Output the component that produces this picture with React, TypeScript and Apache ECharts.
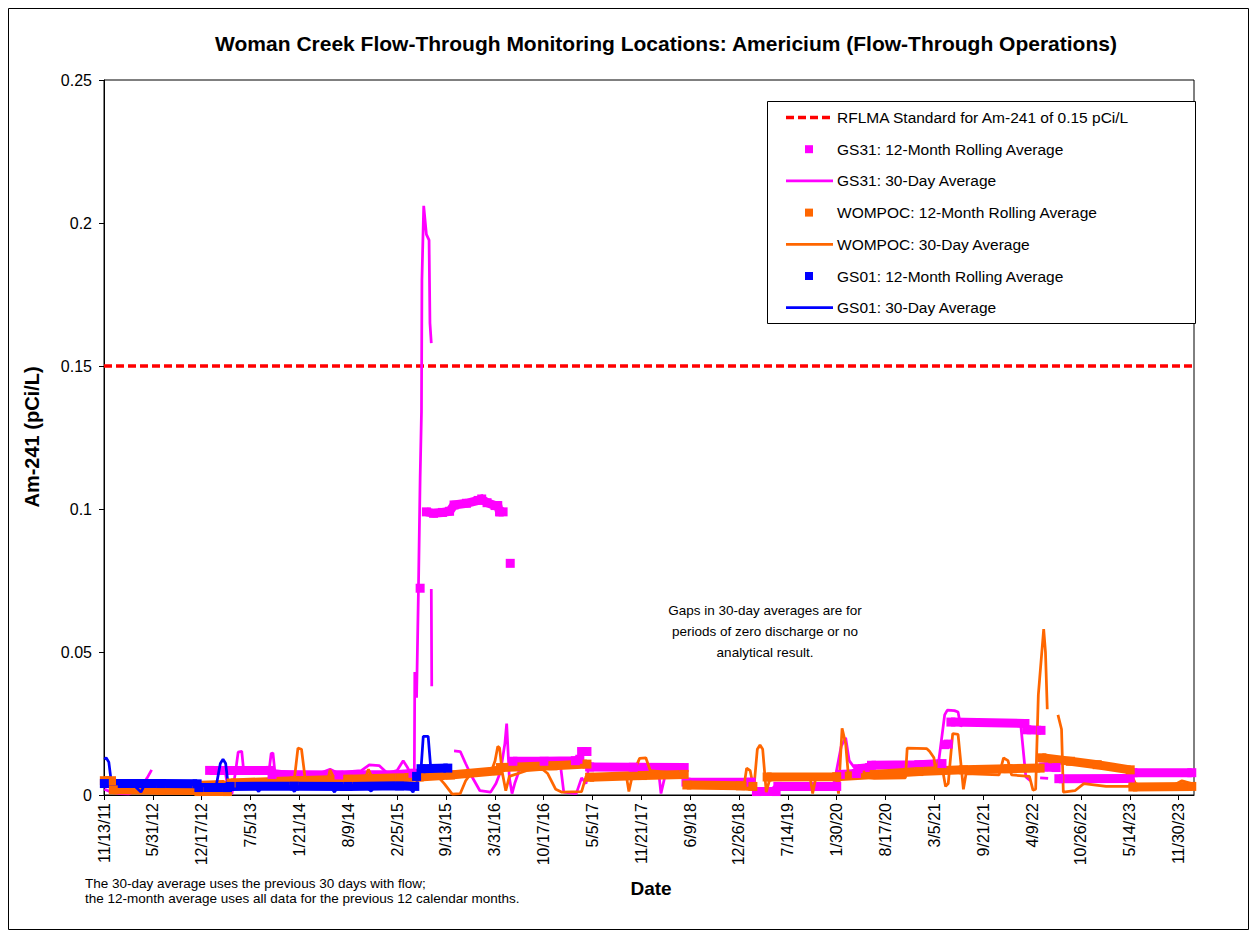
import React, { useEffect, useRef } from 'react';
import * as echarts from 'echarts';

// x values are decimal years, y values are Am-241 in pCi/L
const gs31Roll: number[][][] = [
  [[2013.05, 0.0086], [2013.73, 0.0086]],
  [[2013.75, 0.0072], [2014.5, 0.007], [2015.18, 0.0072], [2015.33, 0.0076]],
  [[2015.41, 0.0723]],
  [[2015.48, 0.099], [2015.56, 0.0985], [2015.66, 0.0988], [2015.74, 0.0992], [2015.79, 0.1014], [2015.93, 0.102], [2016.06, 0.103], [2016.1, 0.1035], [2016.16, 0.1022], [2016.25, 0.1012], [2016.28, 0.1012], [2016.3, 0.099], [2016.34, 0.099]],
  [[2016.42, 0.081]],
  [[2016.45, 0.0118], [2016.8, 0.0118], [2017.15, 0.012], [2017.2, 0.0125]],
  [[2017.22, 0.0152], [2017.28, 0.0152]],
  [[2017.31, 0.0098], [2017.8, 0.0097], [2018.37, 0.0096]],
  [[2018.39, 0.0045], [2019.12, 0.0045]],
  [[2019.18, 0.0012], [2019.4, 0.0012]],
  [[2019.42, 0.003], [2020.08, 0.003]],
  [[2020.12, 0.0072], [2020.3, 0.0075]],
  [[2020.32, 0.0092], [2020.45, 0.0096]],
  [[2020.47, 0.0104], [2021.0, 0.0106], [2021.26, 0.011]],
  [[2021.29, 0.0176], [2021.33, 0.0178]],
  [[2021.36, 0.0255], [2022.19, 0.025]],
  [[2022.21, 0.0228], [2022.37, 0.0226]],
  [[2022.4, 0.0098], [2022.54, 0.0096]],
  [[2022.57, 0.0057], [2023.37, 0.0058]],
  [[2023.4, 0.0078], [2024.06, 0.0078]],
];

const gs31Avg: number[][][] = [
  [[2011.87, 0.002], [2011.95, 0.001], [2012.05, 0.0005], [2012.15, 0.0004], [2012.28, 0.0025], [2012.35, 0.006], [2012.4, 0.0088]],
  [[2013.05, 0.0092], [2013.22, 0.0094], [2013.26, 0.001], [2013.3, 0.0004], [2013.34, 0.008], [2013.37, 0.015], [2013.41, 0.0153], [2013.43, 0.009], [2013.6, 0.0092], [2013.72, 0.0094], [2013.74, 0.0145], [2013.76, 0.0147], [2013.78, 0.0085], [2014.0, 0.0077], [2014.3, 0.0078], [2014.4, 0.009], [2014.48, 0.0078], [2014.75, 0.0085], [2014.84, 0.0105], [2014.95, 0.0103], [2015.04, 0.0077], [2015.15, 0.0085], [2015.22, 0.012], [2015.27, 0.0095], [2015.32, 0.006], [2015.345, 0.009], [2015.35, 0.043]],
  [[2015.37, 0.034], [2015.39, 0.07], [2015.41, 0.111], [2015.425, 0.134], [2015.43, 0.18], [2015.45, 0.206], [2015.48, 0.196], [2015.51, 0.194], [2015.52, 0.165], [2015.535, 0.158]],
  [[2015.535, 0.072], [2015.54, 0.038]],
  [[2015.79, 0.0154], [2015.86, 0.0152], [2015.92, 0.011], [2015.98, 0.007], [2016.08, 0.0015], [2016.2, 0.001], [2016.26, 0.004], [2016.31, 0.008], [2016.36, 0.018], [2016.38, 0.025], [2016.41, 0.006], [2016.44, 0.0005], [2016.47, 0.004], [2016.55, 0.0112], [2016.98, 0.0112], [2017.02, 0.001], [2017.16, 0.0005], [2017.22, 0.006], [2017.27, 0.004], [2017.31, 0.0115], [2017.35, 0.0098], [2017.9, 0.0097], [2018.08, 0.0092], [2018.11, 0.0005], [2018.15, 0.006], [2018.19, 0.0095], [2018.36, 0.0093], [2018.4, 0.005], [2019.0, 0.0048], [2019.12, 0.005], [2019.2, 0.001], [2019.3, 0.0005], [2019.4, 0.0035], [2020.05, 0.004], [2020.13, 0.017], [2020.18, 0.02], [2020.22, 0.012], [2020.28, 0.0095], [2020.9, 0.01], [2021.22, 0.011], [2021.29, 0.028], [2021.32, 0.0297], [2021.4, 0.0295], [2021.44, 0.029], [2021.47, 0.024], [2021.52, 0.0255], [2022.14, 0.0255], [2022.2, 0.0063], [2022.25, 0.005]],
  [[2022.36, 0.006], [2022.45, 0.0058]],
];

const wompocRoll: number[][][] = [
  [[2011.87, 0.005], [2011.95, 0.005]],
  [[2011.97, 0.0018], [2012.5, 0.0017], [2012.91, 0.0016]],
  [[2012.93, 0.0012], [2013.25, 0.0012]],
  [[2013.29, 0.0042], [2014.0, 0.005], [2014.6, 0.0055], [2015.18, 0.006], [2015.4, 0.0063], [2015.75, 0.007], [2016.28, 0.0085]],
  [[2016.31, 0.0096], [2016.9, 0.0102], [2017.28, 0.0108]],
  [[2017.31, 0.0062], [2017.9, 0.0068], [2018.37, 0.0072]],
  [[2018.4, 0.0035], [2019.0, 0.0032], [2019.14, 0.003]],
  [[2019.3, 0.0063], [2020.08, 0.0064], [2020.5, 0.0072], [2021.0, 0.0082], [2021.5, 0.0088], [2022.0, 0.0092], [2022.36, 0.0094]],
  [[2022.38, 0.013], [2022.7, 0.0118], [2023.0, 0.0106], [2023.37, 0.0088]],
  [[2023.4, 0.0028], [2024.06, 0.003]],
];

const wompocAvg: number[][][] = [
  [[2011.87, 0.005], [2011.93, 0.005], [2011.97, 0.001], [2012.3, 0.0008], [2012.6, 0.0012], [2012.9, 0.001], [2012.95, 0.0045], [2013.2, 0.0048], [2013.25, 0.004], [2013.27, 0.0012], [2013.3, 0.0052], [2013.6, 0.0052], [2014.0, 0.0056], [2014.04, 0.0164], [2014.08, 0.016], [2014.12, 0.006], [2014.38, 0.006], [2014.4, 0.0088], [2014.44, 0.0062], [2014.8, 0.0062], [2014.83, 0.009], [2014.87, 0.0062], [2015.2, 0.0062], [2015.5, 0.0065], [2015.6, 0.0068], [2015.68, 0.004], [2015.77, 0.0003], [2015.86, 0.0005], [2015.92, 0.005], [2015.99, 0.008], [2016.2, 0.0075], [2016.25, 0.012], [2016.28, 0.017], [2016.3, 0.0165], [2016.33, 0.008], [2016.37, 0.0015], [2016.41, 0.0065], [2016.6, 0.0085], [2016.78, 0.009], [2016.84, 0.0075], [2016.93, 0.002], [2017.0, 0.001], [2017.22, 0.0012], [2017.27, 0.0065], [2017.55, 0.007], [2017.72, 0.007], [2017.75, 0.0012], [2017.79, 0.007], [2017.87, 0.0128], [2017.94, 0.013], [2017.99, 0.0085], [2018.2, 0.0078], [2018.36, 0.0068], [2018.4, 0.003], [2018.98, 0.0025], [2019.04, 0.003], [2019.07, 0.0094], [2019.11, 0.0085], [2019.15, 0.002], [2019.19, 0.016], [2019.22, 0.0175], [2019.25, 0.016], [2019.29, 0.001], [2019.34, 0.0068], [2019.7, 0.0072], [2019.78, 0.0065], [2019.81, 0.0005], [2019.85, 0.0068], [2020.07, 0.0068], [2020.1, 0.0005], [2020.14, 0.0233], [2020.18, 0.018], [2020.21, 0.007], [2020.5, 0.0058], [2020.85, 0.006], [2020.87, 0.0164], [2021.09, 0.0162], [2021.12, 0.0153], [2021.17, 0.013], [2021.19, 0.008], [2021.22, 0.012], [2021.26, 0.01], [2021.3, 0.003], [2021.33, 0.004], [2021.38, 0.0215], [2021.44, 0.0212], [2021.5, 0.002], [2021.53, 0.0075], [2021.9, 0.007], [2021.95, 0.013], [2022.0, 0.012], [2022.04, 0.007], [2022.24, 0.0065], [2022.28, 0.0017], [2022.31, 0.002], [2022.34, 0.035], [2022.4, 0.058], [2022.42, 0.05], [2022.44, 0.03]],
  [[2022.56, 0.028], [2022.6, 0.023], [2022.62, 0.001], [2022.75, 0.0015], [2022.85, 0.004], [2023.1, 0.003], [2023.36, 0.003], [2023.4, 0.006], [2023.45, 0.0025], [2023.8, 0.0025], [2023.95, 0.005], [2024.06, 0.004]],
];

const gs01Roll: number[][][] = [
  [[2011.87, 0.004], [2012.5, 0.004], [2012.91, 0.0039]],
  [[2012.93, 0.0026], [2013.25, 0.0026]],
  [[2013.28, 0.003], [2014.0, 0.0031], [2014.6, 0.003], [2015.18, 0.0032], [2015.35, 0.003]],
  [[2015.37, 0.0065]],
  [[2015.42, 0.0092], [2015.72, 0.0094]],
];

const gs01Avg: number[][][] = [
  [[2011.87, 0.0125], [2011.89, 0.013], [2011.92, 0.0115], [2011.95, 0.004], [2012.2, 0.0035], [2012.28, 0.001], [2012.32, 0.0035], [2012.7, 0.0038], [2012.91, 0.0035], [2012.95, 0.0022], [2013.12, 0.0025], [2013.17, 0.011], [2013.2, 0.0125], [2013.23, 0.011], [2013.26, 0.003], [2013.55, 0.003], [2013.6, 0.0012], [2013.64, 0.003], [2013.95, 0.0032], [2014.0, 0.0012], [2014.04, 0.003], [2014.4, 0.003], [2014.45, 0.001], [2014.49, 0.003], [2014.8, 0.003], [2014.86, 0.0013], [2014.9, 0.003], [2015.28, 0.003], [2015.33, 0.001], [2015.37, 0.004], [2015.42, 0.009], [2015.445, 0.0205], [2015.5, 0.0205], [2015.53, 0.009], [2015.72, 0.0092]],
];

const standardValue = 0.15;
const yTicks = { min: 0, max: 0.25, interval: 0.05 };
const xTickDays = 200;
const xMaxDays = 4463;

const legendItems = [
  { name: 'RFLMA Standard for Am-241 of 0.15 pCi/L', color: '#FF0000', kind: 'dash' },
  { name: 'GS31: 12-Month Rolling Average', color: '#FF00FF', kind: 'square' },
  { name: 'GS31: 30-Day Average', color: '#FF00FF', kind: 'line' },
  { name: 'WOMPOC: 12-Month Rolling Average', color: '#FF6600', kind: 'square' },
  { name: 'WOMPOC: 30-Day Average', color: '#FF6600', kind: 'line' },
  { name: 'GS01: 12-Month Rolling Average', color: '#0000FF', kind: 'square' },
  { name: 'GS01: 30-Day Average', color: '#0000FF', kind: 'line' },
];

const START_UTC = Date.UTC(2011, 10, 13);
const YEAR0 = 2011.866;
const toDay = (yr: number) => (yr - YEAR0) * 365.25;

const build = (segs: number[][][]) => {
  const out: (number | null)[][] = [];
  segs.forEach((s, i) => {
    if (i > 0) out.push([toDay(s[0][0]) - 0.01, null]);
    s.forEach(([yr, v]) => out.push([toDay(yr), v]));
  });
  return out;
};

const FONT = '"Liberation Sans", Arial, Helvetica, sans-serif';

const fmtDate = (v: number) => {
  if (Math.abs(v % xTickDays) > 0.001) return '';
  const d = new Date(START_UTC + v * 86400000);
  return `${d.getUTCMonth() + 1}/${d.getUTCDate()}/${String(d.getUTCFullYear()).slice(2)}`;
};

const rollSeries = (name: string, segs: number[][][], color: string) => ({
  type: 'line',
  name,
  data: build(segs),
  showSymbol: true,
  symbol: 'rect',
  symbolSize: 9,
  connectNulls: false,
  itemStyle: { color },
  lineStyle: { color, width: 9, cap: 'butt', join: 'miter' },
  silent: true,
  emphasis: { disabled: true },
});

const avgSeries = (name: string, segs: number[][][], color: string) => ({
  type: 'line',
  name,
  data: build(segs),
  showSymbol: false,
  connectNulls: false,
  lineStyle: { color, width: 2.75 },
  silent: true,
  emphasis: { disabled: true },
});

function legendGraphic() {
  const left = 759;
  const top = 93;
  const children: any[] = [
    {
      type: 'rect',
      shape: { x: left + 0.5, y: top + 0.5, width: 428, height: 222 },
      style: { fill: '#fff', stroke: '#000', lineWidth: 1 },
    },
  ];
  legendItems.forEach((it, i) => {
    const cy = 109.5 + i * 31.7;
    if (it.kind === 'square') {
      children.push({
        type: 'rect',
        shape: { x: 797, y: cy - 4, width: 8, height: 8 },
        style: { fill: it.color },
      });
    } else {
      children.push({
        type: 'line',
        shape: { x1: 778, y1: cy, x2: 825, y2: cy },
        style: {
          stroke: it.color,
          lineWidth: it.kind === 'dash' ? 3.5 : 2.75,
          lineDash: it.kind === 'dash' ? [8, 4] : null,
        },
      });
    }
    children.push({
      type: 'text',
      x: 829,
      y: cy,
      style: {
        text: it.name,
        font: `15.5px ${FONT}`,
        fill: '#000',
        textAlign: 'left',
        textVerticalAlign: 'middle',
      },
    });
  });
  return { type: 'group', z: 100, children };
}

export default function App() {
  const ref = useRef<HTMLDivElement>(null);
  useEffect(() => {
    if (!ref.current) return;
    const chart = echarts.init(ref.current, null, { renderer: 'svg' });
    const option: any = {
      animation: false,
      backgroundColor: '#fff',
      grid: {
        left: 96,
        top: 72,
        width: 1090,
        height: 715,
        show: true,
        borderColor: '#000',
        borderWidth: 1,
        backgroundColor: 'transparent',
      },
      xAxis: {
        type: 'value',
        min: 0,
        max: xMaxDays,
        interval: xTickDays,
        axisLine: { show: true, onZero: false, lineStyle: { color: '#000', width: 1 } },
        axisTick: { show: true, inside: false, length: 5, lineStyle: { color: '#000' } },
        axisLabel: {
          rotate: 90,
          margin: 8,
          color: '#000',
          fontSize: 16,
          fontFamily: FONT,
          showMaxLabel: false,
          formatter: fmtDate,
        },
        splitLine: { show: false },
      },
      yAxis: {
        type: 'value',
        min: yTicks.min,
        max: yTicks.max,
        interval: yTicks.interval,
        axisLine: { show: true, lineStyle: { color: '#000', width: 1 } },
        axisTick: { show: true, inside: false, length: 5, lineStyle: { color: '#000' } },
        axisLabel: { color: '#000', fontSize: 16, fontFamily: FONT, margin: 12 },
        splitLine: { show: false },
      },
      series: [
        {
          type: 'line',
          name: legendItems[0].name,
          data: [[0, standardValue], [xMaxDays, standardValue]],
          showSymbol: false,
          lineStyle: { color: '#FF0000', width: 3.5, type: [8, 4] },
          silent: true,
        },
        rollSeries(legendItems[1].name, gs31Roll, '#FF00FF'),
        avgSeries(legendItems[2].name, gs31Avg, '#FF00FF'),
        rollSeries(legendItems[3].name, wompocRoll, '#FF6600'),
        avgSeries(legendItems[4].name, wompocAvg, '#FF6600'),
        rollSeries(legendItems[5].name, gs01Roll, '#0000FF'),
        avgSeries(legendItems[6].name, gs01Avg, '#0000FF'),
      ],
      graphic: [
        {
          type: 'rect',
          shape: { x: 0.5, y: 0.5, width: 1240, height: 921 },
          style: { fill: 'none', stroke: '#000', lineWidth: 1 },
          silent: true,
        },
        {
          type: 'text',
          x: 658,
          y: 35,
          style: {
            text: 'Woman Creek Flow-Through Monitoring Locations: Americium (Flow-Through Operations)',
            font: `bold 21px ${FONT}`,
            fill: '#000',
            textAlign: 'center',
            textVerticalAlign: 'middle',
          },
        },
        {
          type: 'text',
          x: 24,
          y: 429,
          rotation: Math.PI / 2,
          style: {
            text: 'Am-241 (pCi/L)',
            font: `bold 20px ${FONT}`,
            fill: '#000',
            textAlign: 'center',
            textVerticalAlign: 'middle',
          },
        },
        {
          type: 'text',
          x: 643,
          y: 880,
          style: {
            text: 'Date',
            font: `bold 19px ${FONT}`,
            fill: '#000',
            textAlign: 'center',
            textVerticalAlign: 'middle',
          },
        },
        {
          type: 'text',
          x: 757,
          y: 623,
          style: {
            text: 'Gaps in 30-day averages are for\nperiods of zero discharge or no\nanalytical result.',
            font: `13.5px ${FONT}`,
            lineHeight: 21,
            fill: '#000',
            textAlign: 'center',
            textVerticalAlign: 'middle',
          },
        },
        {
          type: 'text',
          x: 77,
          y: 883,
          style: {
            text: 'The 30-day average uses the previous 30 days with flow;\nthe 12-month average uses all data for the previous 12 calendar months.',
            font: `13.5px ${FONT}`,
            lineHeight: 15,
            fill: '#000',
            textAlign: 'left',
            textVerticalAlign: 'middle',
          },
        },
        legendGraphic(),
      ],
    };
    chart.setOption(option);
    return () => chart.dispose();
  }, []);
  return <div ref={ref} style={{ width: 1241, height: 922 }} />;
}
